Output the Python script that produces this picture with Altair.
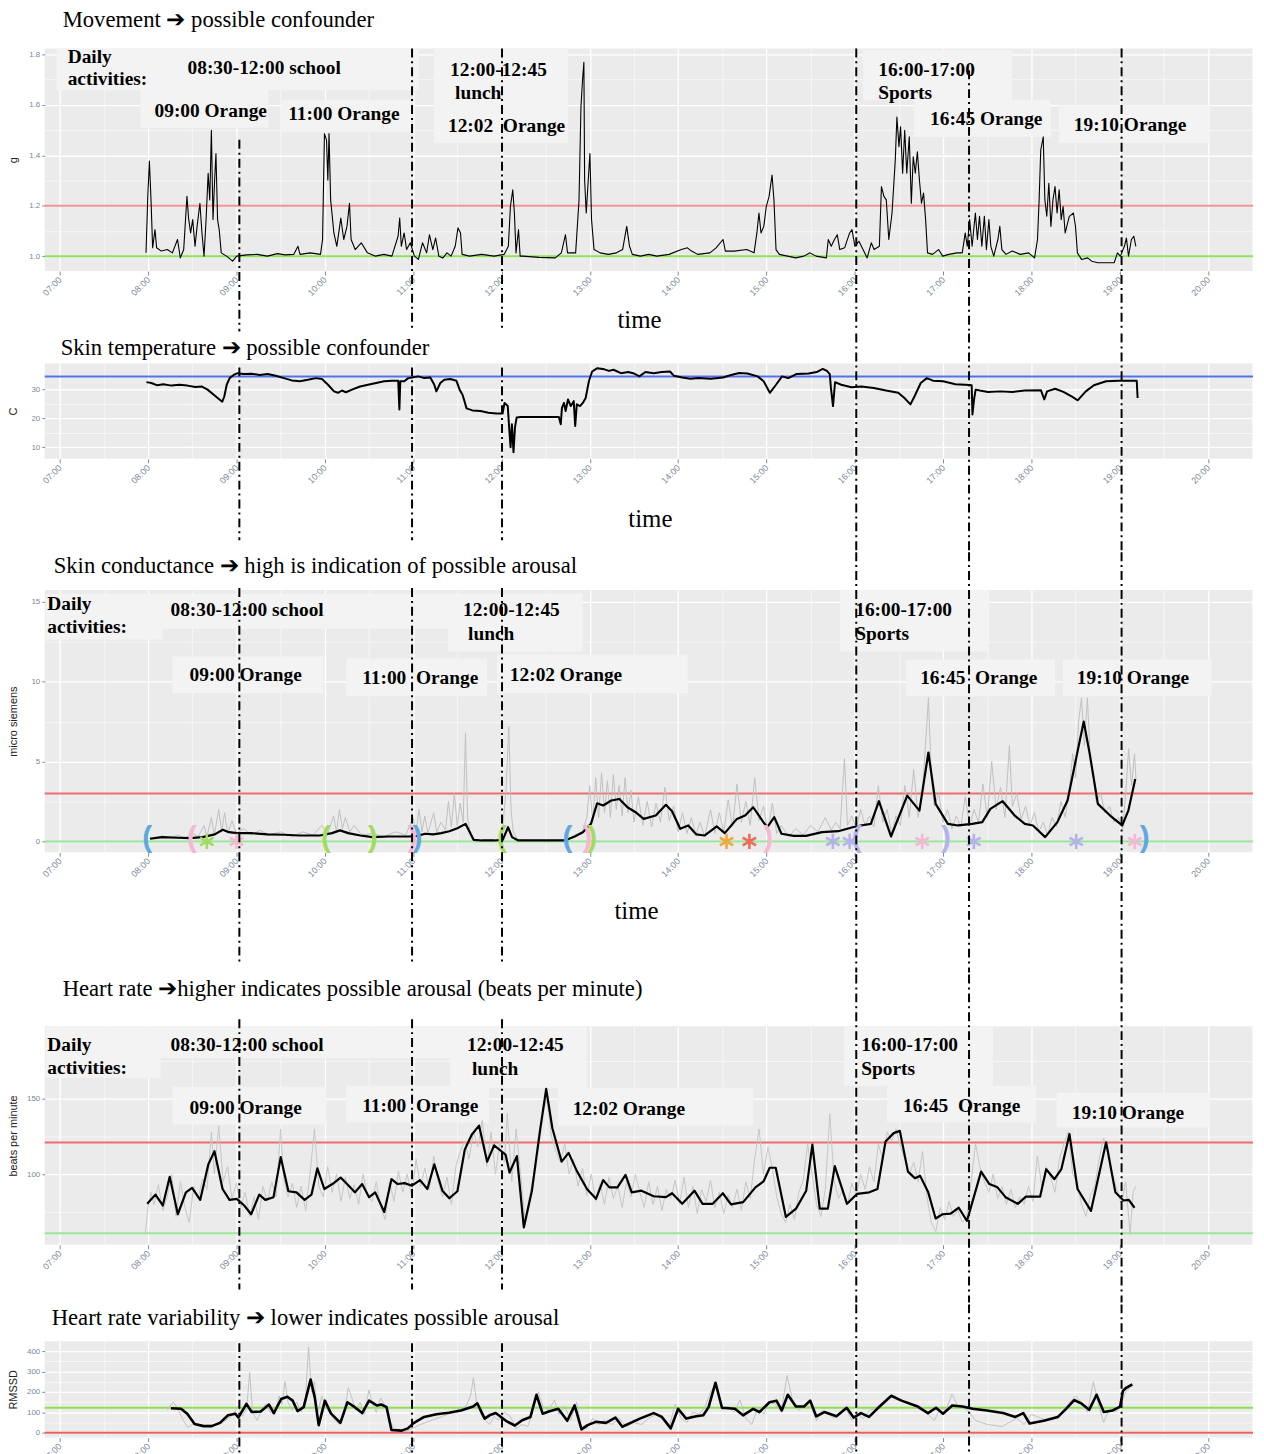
import altair as alt
import pandas as pd

# ---------------- data: (minutes after midnight, value) ----------------
MOVEMENT = [
(478.6,1.013),(479.8,1.237),(480.9,1.377),(482.0,1.223),(483.1,1.033),(484.7,1.105),(485.8,1.033),(489.0,1.02),
(493.1,1.026),(496.5,1.013),(500.0,1.066),(501.9,0.993),(504.2,1.026),(506.4,1.237),(507.5,1.151),(508.9,1.092),
(510.3,1.145),(511.9,1.039),(513.3,1.118),(515.2,1.210),(516.6,1.092),(518.0,1.0),(519.4,1.145),(520.8,1.329),
(521.9,1.223),(523.0,1.499),(524.1,1.145),(525.2,1.302),(526.1,1.407),(527.2,1.145),(528.3,1.105),(529.7,1.013),
(533.3,1.0),(537.4,0.98),(540.2,1.0),(547.0,1.005),(554.1,1.007),(561.0,1.0),(567.9,1.01),(573.0,1.005),
(579.0,1.007),(581.8,1.039),(583.2,1.007),(590.1,1.013),(597.1,1.007),(598.5,1.066),(599.8,1.486),(601.2,1.46),
(602.1,1.302),(602.9,1.486),(604.0,1.223),(606.2,1.092),(608.2,1.039),(610.9,1.151),(612.9,1.066),(615.1,1.118),
(616.8,1.21),(617.9,1.066),(620.7,1.026),(624.8,1.053),(629.0,1.013),(634.5,1.0),(640.1,1.007),(645.6,1.0),
(649.8,1.079),(650.9,1.151),(652.0,1.039),(653.9,1.092),(655.6,1.026),(658.1,1.053),(660.9,1.0),(663.6,0.987),
(666.4,1.053),(669.2,1.013),(671.1,1.085),(673.4,1.026),(675.3,1.072),(677.5,1.0),(680.3,0.993),(683.0,1.013),
(685.8,1.0),(688.6,1.039),(690.5,1.112),(692.2,1.092),(693.3,1.007),(698.3,1.0),(706.6,1.007),(715.0,1.0),
(721.9,1.007),(724.7,1.039),(726.1,1.197),(727.7,1.263),(728.8,1.171),(729.9,1.013),(731.6,1.105),(732.7,1.0),
(734.4,1.0),(745.5,0.995),(756.6,0.993),(760.7,1.013),(763.5,1.085),(764.9,1.013),(770.4,1.013),(772.7,1.223),
(774.0,1.591),(775.1,1.70),(776.0,1.769),(776.5,1.302),(777.6,1.171),(778.7,1.276),(780.1,1.407),(781.2,1.145),
(782.9,1.026),(787.0,1.013),(792.6,1.007),(798.1,1.013),(802.3,1.026),(805.1,1.118),(807.0,1.039),(808.9,1.007),
(814.4,1.0),(820.0,1.007),(825.5,1.0),(833.9,1.007),(842.2,1.026),(846.3,1.033),(849.1,1.020),(853.3,1.007),
(861.6,1.013),(865.8,1.033),(870.5,1.066),(872.1,1.020),(878.2,1.020),(886.6,1.026),(891.6,1.013),(893.5,1.092),
(894.9,1.171),(896.3,1.092),(898.2,1.118),(899.9,1.197),(901.8,1.237),(903.8,1.322),(905.1,1.223),(906.5,1.026),
(908.8,1.007),(914.3,1.0),(919.9,0.993),(925.4,1.0),(929.6,1.013),(933.7,1.0),(940.7,0.993),(942.0,1.066),
(944.0,1.039),(946.2,1.066),(948.1,1.085),(949.8,1.026),(953.1,1.033),(956.5,1.092),(958.1,1.105),(960.1,1.039),
(962.8,1.059),(965.6,1.026),(968.4,0.993),(971.2,1.053),(973.1,1.026),(976.7,1.039),(978.1,1.276),(979.8,1.237),
(981.4,1.223),(983.1,1.066),(985.3,1.171),(987.5,1.381),(988.6,1.552),(990.0,1.434),(991.1,1.513),(992.5,1.329),
(993.9,1.499),(995.3,1.329),(997.0,1.473),(998.4,1.210),(999.7,1.394),(1001.1,1.329),(1002.5,1.414),(1003.9,1.302),
(1005.3,1.210),(1006.7,1.250),(1008.1,1.145),(1009.4,1.013),(1012.8,1.007),(1016.9,1.026),(1019.7,1.0),(1023.9,1.007),
(1029.4,1.013),(1033.0,1.013),(1035.0,1.092),(1036.4,1.039),(1038.0,1.145),(1039.7,1.039),(1041.9,1.171),(1043.3,1.066),
(1044.7,1.158),(1046.3,1.039),(1048.0,1.158),(1049.4,1.026),(1051.1,1.145),(1052.4,1.039),(1054.4,1.0),(1057.2,1.066),
(1058.5,1.118),(1059.9,1.026),(1062.7,1.007),(1066.9,1.020),(1072.4,1.007),(1078.0,1.013),(1082.1,0.993),(1084.1,1.066),
(1085.2,1.223),(1086.3,1.421),(1088.0,1.473),(1089.1,1.223),(1090.4,1.158),(1091.8,1.289),(1093.2,1.118),(1094.6,1.223),
(1096.0,1.276),(1097.4,1.171),(1098.8,1.263),(1100.2,1.145),(1101.5,1.197),(1102.9,1.092),(1105.7,1.158),(1108.5,1.171),
(1109.9,1.118),(1111.2,1.013),(1114.0,0.987),(1118.2,0.993),(1120.9,0.980),(1125.1,0.974),(1130.7,0.974),(1136.2,0.974),
(1138.4,1.013),(1140.4,1.0),(1143.1,1.039),(1144.5,1.072),(1145.9,1.0),(1147.9,1.066),(1149.5,1.079),(1150.9,1.039)]

SKIN_TEMP = [
(478.9,32.6),(482.2,32.3),(486.3,31.5),(490.4,31.9),(495.8,31.4),(501.3,31.7),(506.7,31.4),(512.2,30.9),(516.3,31.1),
(520.4,30.0),(524.4,28.3),(528.5,26.6),(530.4,25.8),(531.8,27.7),(533.4,31.7),(535.4,34.0),(538.1,35.1),(540.8,35.7),
(544.9,35.4),(550.4,35.5),(555.8,35.1),(561.3,35.4),(566.7,34.8),(572.2,34.0),(577.6,33.2),(583.1,32.9),(588.5,33.4),
(594.0,34.0),(598.1,33.7),(602.2,31.7),(606.3,29.4),(609.0,28.9),(611.7,29.7),(614.4,29.1),(618.5,30.0),(624.0,31.1),
(629.4,31.7),(634.9,32.3),(640.3,32.9),(645.8,33.1),(649.9,33.1),(650.7,23.1),(651.3,32.9),(654.0,32.9),(656.7,34.0),
(659.4,34.2),(663.5,34.6),(667.6,34.0),(671.7,34.2),(674.4,31.7),(675.8,29.4),(678.5,32.3),(681.2,33.4),(685.3,33.7),
(689.4,33.1),(691.6,30.0),(693.5,28.3),(694.9,26.0),(696.3,23.5),(700.3,22.8),(705.8,22.6),(711.2,22.0),(716.7,21.7),
(720.8,21.7),(722.1,25.4),(724.3,24.3),(725.4,15.7),(726.2,10.0),(727.1,18.0),(728.2,8.3),(729.2,16.9),(730.3,20.3),
(733.1,20.5),(741.2,20.5),(749.4,20.5),(759.0,20.5),(760.3,18.0),(761.1,23.7),(762.5,25.4),(763.6,22.6),(765.2,26.6),
(767.1,24.3),(769.1,26.0),(770.1,17.4),(771.2,24.9),(773.4,24.3),(775.3,25.4),(777.2,27.1),(779.4,32.9),(781.6,36.3),
(784.9,37.4),(789.0,37.2),(793.0,36.5),(796.1,36.9),(801.2,35.7),(806.1,36.1),(809.5,35.7),(813.7,34.6),(817.8,36.1),
(823.4,35.7),(828.9,36.1),(834.5,36.3),(837.2,34.8),(842.8,34.2),(848.3,33.8),(853.8,34.0),(862.2,33.8),(870.5,34.2),
(876.0,35.1),(881.5,35.8),(887.1,35.6),(894.0,34.6),(898.1,32.9),(902.3,28.9),(906.5,31.7),(910.6,34.6),(914.8,34.0),
(920.3,35.4),(928.6,35.6),(934.1,36.1),(938.3,37.2),(941.1,36.5),(943.0,35.4),(943.8,30.6),(945.2,24.3),(946.6,32.6),
(950.8,31.7),(957.7,30.8),(964.6,31.1),(972.9,30.6),(981.2,29.7),(989.5,28.9),(993.7,27.1),(997.8,24.9),(1000.6,27.7),
(1004.8,32.3),(1008.9,34.0),(1013.1,33.1),(1020.0,32.9),(1028.3,31.9),(1035.2,31.7),(1039.4,31.5),(1039.9,21.4),
(1041.0,26.6),(1042.1,30.0),(1044.9,29.7),(1050.4,29.2),(1058.8,29.4),(1067.1,29.2),(1075.4,29.7),(1086.4,29.8),
(1088.7,26.6),(1090.6,29.4),(1096.1,30.3),(1101.7,29.2),(1107.2,27.7),(1111.4,26.3),(1116.9,29.4),(1122.4,31.5),
(1130.7,32.9),(1139.1,33.1),(1151.5,33.1),(1152.1,27.1)]

SC_RAW = [
(481,0.2),(490,0.35),(495,0.2),(500,0.4),(505,0.2),(510,0.5),(514,0.3),(518,1.0),(520,0.3),(523,1.5),(525,0.4),(528,2.0),
(530,0.6),(532,1.8),(534,0.5),(537,1.3),(540,0.5),(545,0.8),(550,0.4),(556,0.7),(562,0.4),(570,0.6),(578,0.3),(585,0.6),
(592,0.4),(598,1.0),(602,0.5),(606,1.6),(608,0.6),(610,2.0),(612,0.8),(614,1.5),(617,0.6),(620,1.0),(625,0.4),(632,0.5),
(640,0.3),(648,0.6),(655,0.4),(660,1.5),(662,0.5),(664,2.0),(666,0.6),(668,1.6),(670,0.5),(674,1.8),(676,0.6),(679,1.2),
(682,0.7),(684,2.5),(686,0.9),(688,3.0),(690,1.0),(692,2.4),(694,1.2),(695.6,6.8),(697,1.5),(699,0.4),(701,0.1),(710,0.05),
(720,0.1),(723,3.0),(725,7.2),(726.5,2.0),(728,0.6),(731,0.1),(745,0.05),(760,0.05),(766,0.2),(770,0.4),(775,0.6),(778,1.5),
(780,3.5),(782,1.2),(784,4.0),(786,1.5),(788,4.3),(790,1.8),(792,3.8),(794,1.5),(796,4.2),(798,2.0),(800,3.5),(802,1.6),
(804,4.0),(806,1.8),(808,3.2),(810,1.2),(813,2.8),(816,1.0),(819,2.5),(822,0.9),(825,2.4),(828,1.2),(831,3.4),(834,1.3),
(837,2.2),(840,0.6),(843,1.8),(846,0.5),(849,1.5),(852,0.4),(855,1.2),(858,0.3),(862,2.0),(865,0.5),(868,1.8),(871,0.6),
(874,2.6),(877,0.9),(880,3.6),(883,1.2),(886,2.5),(889,1.0),(892,4.0),(895,1.3),(898,2.2),(901,0.6),(904,2.4),(907,0.5),
(910,1.0),(915,0.3),(920,0.8),(925,0.4),(930,1.0),(935,0.6),(940,1.5),(944,0.7),(947,1.2),(950,0.8),(953,5.2),(955,1.0),
(958,1.6),(961,0.8),(964,2.0),(967,1.0),(970,1.6),(973,0.9),(976,3.5),(979,1.2),(982,2.0),(985,0.5),(988,1.6),(991,1.0),
(994,3.5),(997,1.5),(1000,4.5),(1003,1.5),(1006,3.2),(1008,6.0),(1010,9.0),(1012,4.0),(1014,2.2),(1017,3.0),(1020,1.2),
(1023,2.0),(1026,0.8),(1029,1.6),(1032,0.9),(1035,2.8),(1038,1.0),(1041,2.0),(1044,1.2),(1047,3.6),(1050,1.5),(1053,5.0),
(1056,2.0),(1059,3.4),(1062,1.5),(1065,6.0),(1067,2.2),(1070,3.0),(1073,1.4),(1076,2.2),(1079,1.0),(1082,1.8),(1085,0.6),
(1088,1.2),(1091,0.4),(1094,1.5),(1097,0.9),(1100,2.5),(1103,1.5),(1106,3.5),(1108,5.5),(1110,4.0),(1112,7.5),(1114,9.0),
(1116,6.0),(1118,9.0),(1120,5.0),(1122,4.0),(1124,2.5),(1127,3.0),(1130,1.8),(1133,2.2),(1136,1.2),(1139,1.5),(1142,0.8),
(1144,3.0),(1146,5.8),(1148,3.5),(1150,5.5),(1151,3.9)]

SC_SMOOTH = [
(481.3,0.17),(489.5,0.27),(500.5,0.23),(508.8,0.21),(517.0,0.27),(525.3,0.44),(530.7,0.73),(534.9,0.58),(540.4,0.52),
(550.0,0.52),(561.0,0.44),(572.0,0.42),(583.0,0.37),(596.7,0.37),(604.9,0.52),(610.4,0.69),(615.9,0.52),(624.2,0.37),
(632.4,0.27),(643.4,0.31),(657.2,0.31),(662.7,0.35),(668.2,0.48),(673.7,0.44),(679.1,0.52),(684.6,0.64),(690.1,0.83),
(695.6,1.10),(701.1,0.10),(706.6,0.06),(714.9,0.06),(720.9,0.10),(724.5,0.89),(727.2,0.27),(731.4,0.06),(742.4,0.06),
(753.3,0.06),(763.0,0.06),(769.8,0.31),(775.3,0.58),(780.8,1.10),(785.0,2.39),(789.1,2.25),(794.6,2.56),(800.1,2.66),
(805.6,2.14),(811.1,1.83),(816.6,1.41),(824.8,1.62),(831.7,2.29),(835.9,1.89),(841.4,0.79),(846.9,1.0),(852.4,0.44),
(857.9,0.37),(866.2,0.94),(871.7,0.52),(879.9,1.41),(885.5,1.62),(891.0,2.14),(897.9,1.21),(900.6,0.89),(905.3,1.52),
(910.2,0.48),(918.5,0.35),(926.8,0.35),(937.8,0.58),(948.8,0.64),(958.5,0.89),(964.0,1.0),(970.9,1.10),(976.4,2.52),
(984.6,0.31),(995.6,2.87),(1003.9,1.93),(1010.0,5.57),(1014.9,2.35),(1023.2,1.10),(1030.1,1.0),(1039.7,1.10),(1046.6,1.21),
(1052.1,2.04),(1060.4,2.52),(1068.6,1.62),(1075.5,1.10),(1081.0,1.0),(1089.3,0.27),(1097.6,1.21),(1104.5,2.56),(1110.0,5.05),
(1115.5,7.51),(1119.6,5.47),(1125.1,2.35),(1133.4,1.62),(1141.6,1.0),(1145.8,1.93),(1150.5,3.91)]

# event markers on the skin-conductance baseline: (minutes, glyph, colour key)
SC_MARKS = [
(479.4,"(","blue"),(509.8,"(","pink"),(519.9,"*","green"),(540.1,"*","pink"),(600.9,"(","green"),(632.6,")","green"),
(659.6,")","pink"),(663.0,")","blue"),(720.3,"(","green"),(764.9,"(","blue"),(778.4,")","pink"),(781.7,")","green"),
(872.9,"*","orange"),(888.4,"*","red"),(901.2,")","pink"),(945.1,"*","purple"),(956.5,"*","purple"),(961.3,"(","purple"),
(1005.8,"*","pink"),(1022.0,")","purple"),(1040.9,"*","purple"),(1110.4,"*","purple"),(1150.2,"*","pink"),(1157.0,")","blue")]
MARK_COLORS = {"blue": "#5fa8e0", "pink": "#f4b8d4", "green": "#a3db62", "orange": "#f6a640",
               "red": "#ef6a5a", "purple": "#b4b2e8"}

HR_RAW = [
(478,60),(480,78),(482,88),(484,80),(487,93),(490,76),(493,85),(496,100),(499,72),(502,95),(505,78),(508,68),(511,92),
(514,84),(517,97),(520,90),(523,128),(525,100),(528,132),(531,95),(534,105),(537,84),(540,94),(543,78),(546,88),(549,72),
(552,85),(555,70),(558,92),(561,82),(564,95),(567,85),(570,130),(572,98),(575,85),(578,94),(581,78),(584,92),(587,76),
(590,100),(593,130),(596,92),(599,85),(602,105),(605,88),(608,100),(611,82),(614,98),(617,84),(620,93),(623,80),(626,100),
(629,86),(632,82),(635,95),(638,78),(641,70),(644,95),(647,82),(650,102),(653,88),(656,100),(659,85),(662,110),(665,92),
(668,104),(671,90),(674,112),(677,95),(680,85),(683,98),(686,80),(689,105),(692,115),(695,122),(698,110),(701,128),
(704,118),(707,136),(710,105),(713,128),(716,100),(719,122),(722,108),(724,140),(727,95),(730,130),(733,100),(736,70),
(739,85),(742,100),(745,125),(748,140),(751,150),(754,125),(757,115),(760,108),(763,120),(766,100),(769,110),(772,92),
(775,104),(778,86),(781,100),(784,82),(787,94),(790,80),(793,98),(796,84),(799,92),(802,78),(805,95),(808,85),(811,100),
(814,88),(817,78),(820,95),(823,80),(826,92),(829,76),(832,90),(835,84),(838,96),(841,80),(844,98),(847,78),(850,92),
(853,74),(856,90),(859,82),(862,96),(865,78),(868,88),(871,74),(874,86),(877,78),(880,90),(883,76),(886,95),(889,84),
(892,110),(895,130),(898,100),(901,118),(904,104),(907,85),(910,74),(913,68),(916,80),(919,70),(922,88),(925,96),(928,120),
(931,100),(934,80),(937,72),(940,90),(943,140),(946,95),(949,84),(952,90),(955,80),(958,94),(961,86),(964,100),(967,90),
(970,105),(973,95),(976,120),(979,110),(982,128),(985,122),(988,130),(991,118),(994,110),(997,100),(1000,108),(1003,95),
(1006,115),(1009,85),(1012,68),(1015,62),(1018,78),(1021,70),(1024,82),(1027,72),(1030,76),(1033,68),(1036,72),(1039,95),
(1042,120),(1045,105),(1048,95),(1051,88),(1054,100),(1057,84),(1060,92),(1063,80),(1066,90),(1069,78),(1072,85),(1075,80),
(1078,92),(1081,82),(1084,112),(1087,92),(1090,105),(1093,98),(1096,88),(1099,110),(1102,120),(1105,128),(1108,100),
(1111,95),(1114,80),(1117,72),(1120,86),(1123,92),(1126,110),(1129,124),(1132,118),(1135,100),(1138,90),(1141,80),
(1144,95),(1147,60),(1149,88),(1151,92)]

HR_SMOOTH = [
(479.4,80.4),(485.0,86.5),(490.0,79.3),(494.7,98.3),(500.2,73.5),(505.7,88.0),(509.9,90.9),(515.4,83.0),(520.9,106.5),
(525.1,115.2),(530.6,90.2),(535.3,83.0),(540.3,83.7),(545.3,79.3),(550.0,73.5),(555.5,86.5),(559.6,83.0),(565.2,84.8),
(570.1,111.3),(575.3,88.7),(580.8,88.0),(586.3,83.0),(591.0,86.5),(595.0,103.9),(599.7,90.2),(605.2,93.5),(610.8,97.8),
(616.3,92.4),(620.5,88.0),(625.4,93.5),(630.1,84.8),(634.3,88.0),(640.4,75.0),(645.3,96.7),(649.5,93.5),(654.2,94.1),
(659.2,92.4),(664.7,96.1),(669.7,90.2),(674.4,106.5),(679.9,89.1),(684.6,84.1),(690.1,88.7),(695.1,116.3),(699.8,126.1),
(704.8,132.2),(710.3,108.3),(715.0,119.1),(720.0,115.2),(722.8,113.0),(725.5,101.1),(730.5,112.0),(735.2,64.8),
(740.7,89.1),(746.3,129.3),(750.4,156.5),(754.6,130.4),(760.9,108.3),(765.6,114.1),(771.2,102.2),(778.1,90.2),(784.2,83.7),
(789.1,96.1),(793.3,91.3),(798.8,91.3),(804.3,99.6),(808.5,88.0),(815.1,89.1),(823.4,85.4),(831.7,84.8),(835.9,87.4),
(842.8,80.4),(851.1,89.1),(856.6,80.4),(863.5,80.4),(870.4,87.4),(875.9,80.0),(884.2,81.5),(892.5,91.3),(898.0,95.2),
(902.2,104.3),(906.3,104.3),(913.2,71.7),(920.1,77.2),(927.0,89.1),(931.2,119.6),(936.2,77.2),(941.7,77.2),(946.4,105.4),
(954.7,80.4),(961.6,87.0),(969.9,88.0),(975.4,90.2),(980.9,121.7),(986.4,127.2),(990.6,128.7),(996.1,101.7),(1000.8,97.4),
(1004.4,98.9),(1009.9,88.0),(1014.9,70.7),(1019.6,73.5),(1025.1,73.9),(1030.6,77.8),(1036.2,69.1),(1045.8,101.7),
(1051.4,93.5),(1056.9,91.3),(1062.4,84.8),(1070.7,80.4),(1076.2,85.2),(1085.9,85.2),(1090.0,103.3),(1095.6,96.7),
(1100.3,103.3),(1105.8,126.5),(1111.3,90.2),(1120.4,75.7),(1130.7,121.1),(1137.0,88.0),(1142.5,82.6),(1146.1,83.0),
(1150.0,77.8)]

HRV_RAW = [
(493,110),(497,150),(500,120),(504,60),(507,25),(510,40),(520,30),(530,45),(538,90),(541,130),(544,80),(547,120),(549,296),
(551,100),(554,60),(557,110),(560,140),(563,100),(566,90),(569,180),(571,140),(573,250),(575,150),(578,110),(581,150),
(584,100),(587,180),(589,420),(591,200),(593,250),(595,90),(598,180),(601,120),(604,90),(607,60),(610,40),(613,90),
(616,220),(618,180),(621,110),(624,150),(627,90),(630,210),(632,150),(635,100),(638,170),(641,130),(644,60),(647,20),
(655,5),(665,40),(680,80),(690,110),(696,130),(699,180),(701,270),(703,150),(706,90),(709,60),(712,40),(715,80),(718,60),
(722,100),(726,80),(730,20),(734,40),(738,30),(742,120),(745,200),(748,130),(752,110),(756,160),(759,90),(763,130),
(767,60),(771,150),(774,30),(778,20),(782,70),(786,40),(790,60),(795,40),(800,70),(805,30),(810,50),(815,40),(820,70),
(825,90),(830,60),(834,30),(838,140),(842,70),(846,50),(850,100),(854,90),(858,120),(862,200),(866,240),(870,110),
(874,130),(878,100),(882,160),(886,70),(890,40),(894,120),(898,90),(902,150),(906,140),(910,100),(914,280),(918,150),
(922,110),(926,130),(930,130),(934,60),(938,110),(942,90),(946,70),(950,100),(954,120),(958,60),(962,90),(966,70),
(970,110),(975,120),(985,180),(992,160),(1000,130),(1008,100),(1014,60),(1018,120),(1022,110),(1026,190),(1030,130),
(1034,120),(1038,100),(1042,60),(1050,40),(1060,30),(1070,70),(1075,40),(1080,90),(1090,60),(1100,90),(1106,150),
(1110,180),(1114,150),(1118,100),(1122,250),(1125,150),(1129,50),(1133,120),(1137,100),(1141,140),(1144,200),(1148,230)]

HRV_SMOOTH = [
(495.5,120),(502.4,117),(506.6,93),(511.6,42),(517.7,32),(523.2,32),(528.8,48),(534.3,85),(539.3,93),(541.3,74),
(546.8,141),(550.4,101),(556.5,104),(562.1,138),(565.4,96),(570.4,165),(574.6,176),(578.2,157),(581.5,106),(585.7,125),
(590.4,261),(593.2,173),(595.9,37),(600.1,157),(604.3,93),(610.6,48),(615.4,149),(620.4,125),(625.4,96),(630.1,157),
(635.6,133),(638.4,138),(642.0,125),(645.3,13),(652.3,10),(656.4,21),(660.6,48),(667.5,77),(675.9,90),(684.2,98),
(692.5,109),(700.8,128),(703.6,144),(708.6,69),(711.9,85),(716.1,96),(719.7,77),(723.0,58),(729.1,35),(734.1,61),
(739.7,77),(743.8,186),(748.0,93),(752.2,104),(758.6,117),(764.7,58),(769.7,134),(774.4,16),(778.5,37),(784.1,53),
(791.0,48),(797.4,74),(802.1,29),(807.7,48),(814.0,69),(823.4,96),(829.0,77),(835.0,21),(840.0,117),(845.5,69),
(852.4,80),(857.1,85),(860.7,125),(865.4,245),(869.8,122),(878.6,117),(884.1,85),(891.0,117),(895.2,101),(902.1,149),
(906.8,157),(910.4,109),(914.5,186),(920.0,128),(925.5,128),(929.7,157),(933.8,80),(939.3,101),(947.6,80),(954.5,122),
(959.2,74),(964.2,96),(969.7,77),(975.2,117),(984.8,181),(991.7,157),(1002.8,128),(1009.7,96),(1015.2,122),(1019.9,93),
(1026.2,133),(1033.1,128),(1040.0,117),(1049.7,109),(1060.7,96),(1069.0,77),(1074.5,96),(1078.7,45),(1088.3,58),
(1098.0,77),(1103.5,117),(1109.0,160),(1113.7,144),(1119.2,112),(1124.2,186),(1129.1,101),(1135.2,109),(1140.2,128),
(1142.1,205),(1144.0,218),(1148.5,237)]

# dashed event lines (minutes after midnight)
EVENT_LINES = [542.0, 659.3, 720.4, 961.0, 1037.6, 1141.2]

# annotation boxes (t1, t2, v1, v2) and labels (text, t, v) per panel
P1_BOXES = [(418.0,664.0,1.824,1.658),(474.9,561.7,1.659,1.509),(570.5,658.6,1.619,1.493),(674.2,765.1,1.824,1.619),
            (674.2,765.1,1.619,1.450),(965.7,1066.7,1.816,1.619),(1000.3,1093.2,1.619,1.473),(1098.6,1201.0,1.599,1.450)]
P1_TEXT = [("Daily",425.4,1.789),("activities:",425.4,1.702),("08:30-12:00 school",506.8,1.745),
           ("09:00 Orange",484.4,1.576),("11:00 Orange",575.2,1.564),("12:00-12:45",685.1,1.737),("lunch",688.5,1.647),
           ("12:02\u00a0 Orange",683.7,1.517),("16:00-17:00",975.9,1.737),("Sports",975.9,1.647),
           ("16:45 Orange",1011.1,1.544),("19:10 Orange",1108.8,1.521)]
P3_BOXES = [(410.5,489.8,15.50,12.64),(489.8,683.7,15.50,13.32),(683.7,775.2,15.50,11.89),(496.6,599.0,11.58,9.28),
            (614.6,710.2,11.46,9.09),(716.9,846.4,11.71,9.28),(950.1,1051.1,15.75,11.89),(994.9,1095.9,11.39,9.09),
            (1101.3,1202.3,11.39,9.09)]
P3_TEXT = [("Daily",411.6,14.88),("activities:",411.6,13.45),("08:30-12:00 school",495.2,14.51),("12:00-12:45",693.9,14.51),
           ("lunch",697.3,13.01),("16:00-17:00",960.3,14.51),("Sports",960.3,13.01),("09:00 Orange",508.1,10.4),
           ("11:00\u00a0 Orange",625.4,10.21),("12:02 Orange",725.7,10.4),("16:45\u00a0 Orange",1004.4,10.21),
           ("19:10 Orange",1110.8,10.21)]
P4_BOXES = [(410.5,488.5,198,163.8),(488.5,686.4,198,176.9),(685.1,777.9,198,157.2),(496.6,601.0,157.9,132.9),
            (614.6,711.5,158.5,134.2),(758.3,891.1,157.2,132.2),(952.8,1053.8,198,158.5),(982.0,1083.0,158.5,134.2),
            (1097.2,1200.9,153.9,130.9)]
P4_TEXT = [("Daily",411.6,185.5),("activities:",411.6,170.4),("08:30-12:00 school",495.2,185.5),("12:00-12:45",696.6,185.5),
           ("lunch",700.0,169.7),("16:00-17:00",964.4,185.5),("Sports",964.4,169.7),("09:00 Orange",508.1,144.1),
           ("11:00\u00a0 Orange",625.4,145.4),("12:02 Orange",768.4,143.4),("16:45\u00a0 Orange",992.8,145.4),
           ("19:10 Orange",1107.4,140.8)]

# ---------------- helpers ----------------
X_DOMAIN = [6.8305, 20.508]
W = 1216
HALF_HOURS = [7 + 0.5 * i for i in range(28)]
STAR = "M0,-1L0,1M-0.87,-0.5L0.87,0.5M-0.87,0.5L0.87,-0.5"
LABEL_GRAY = "#7a869a"
ARROW = "\u2794"


def major(step):
    return f"abs(datum.value / {step} - round(datum.value / {step})) < 0.001"


def x_axis(title, pad, tx):
    m = major(1)
    kw = dict(values=HALF_HOURS,
              labelExpr=f"{m} ? ((datum.value < 10 ? '0' : '') + round(datum.value) + ':00') : ''",
              labelAngle=315, labelAlign="right", labelBaseline="middle", labelFont="Liberation Sans",
              labelFontSize=9, labelColor=LABEL_GRAY, labelPadding=3, labelOverlap=False,
              tickSize=4, tickColor="#8a8a8a",
              tickOpacity={"condition": {"test": f"!({m})", "value": 0}, "value": 1},
              grid=True, gridColor="white",
              gridWidth={"condition": {"test": f"!({m})", "value": 0.6}, "value": 1.3},
              domain=False, minExtent=30, maxExtent=30)
    if title:
        kw.update(title=title, titleFont="Liberation Serif", titleFontSize=25, titleFontWeight="normal",
                  titleColor="black", titlePadding=pad, titleX=tx)
    else:
        kw["title"] = None
    return alt.Axis(**kw)


def y_axis(title, values, step, fmt):
    m = major(step)
    return alt.Axis(values=values, title=title,
                    labelExpr=f"{m} ? format(datum.value, '{fmt}') : ''",
                    labelFont="Liberation Sans", labelFontSize=8, labelColor=LABEL_GRAY, labelPadding=2,
                    labelOverlap=False, tickSize=3, tickColor="#8a8a8a",
                    tickOpacity={"condition": {"test": f"!({m})", "value": 0}, "value": 1},
                    grid=True, gridColor="white",
                    gridWidth={"condition": {"test": f"!({m})", "value": 0.6}, "value": 1.3},
                    domain=False, minExtent=18, maxExtent=18,
                    titleFont="Liberation Sans", titleFontSize=11, titleFontWeight="normal",
                    titleColor="#222222", titlePadding=8)


def series(pairs):
    return pd.DataFrame({"h": [t / 60 for t, _ in pairs], "v": [v for _, v in pairs]})


def panel(H, ydom, ytitle, yvals, ystep, yfmt, title, tdx, toff, xtitle=None, xpad=10, xtx=None,
          hlines=(), lines=(), boxes=(), texts=(), rules=(), marks=False):
    X = alt.X("h:Q", scale=alt.Scale(domain=X_DOMAIN, nice=False, zero=False), axis=x_axis(xtitle, xpad, xtx))
    Y = alt.Y("v:Q", scale=alt.Scale(domain=ydom, nice=False, zero=False), axis=y_axis(ytitle, yvals, ystep, yfmt))
    layers = []
    if boxes:
        bdf = pd.DataFrame({"h": [b[0] / 60 for b in boxes], "h2": [b[1] / 60 for b in boxes],
                            "v": [b[2] for b in boxes], "v2": [b[3] for b in boxes]})
        layers.append(alt.Chart(bdf).mark_rect(fill="#f3f3f3", stroke=None).encode(x=X, x2="h2", y=Y, y2="v2"))
    for val, col in hlines:
        layers.append(alt.Chart(pd.DataFrame({"v": [val]})).mark_rule(color=col, strokeWidth=2).encode(y=Y))
    for pairs, col, sw in lines:
        layers.append(alt.Chart(series(pairs)).mark_line(color=col, strokeWidth=sw, strokeJoin="round").encode(x=X, y=Y))
    if marks:
        pdf = pd.DataFrame({"h": [m[0] / 60 for m in SC_MARKS if m[1] != "*"],
                            "v": [0.0 for m in SC_MARKS if m[1] != "*"],
                            "s": [m[1] for m in SC_MARKS if m[1] != "*"],
                            "c": [MARK_COLORS[m[2]] for m in SC_MARKS if m[1] != "*"]})
        sdf = pd.DataFrame({"h": [m[0] / 60 for m in SC_MARKS if m[1] == "*"],
                            "v": [0.0 for m in SC_MARKS if m[1] == "*"],
                            "c": [MARK_COLORS[m[2]] for m in SC_MARKS if m[1] == "*"]})
        layers.append(alt.Chart(pdf).mark_text(font="Liberation Sans", fontWeight="bold", fontSize=30,
                                               baseline="middle", dy=-3)
                      .encode(x=X, y=Y, text="s:N", color=alt.Color("c:N", scale=None)))
        layers.append(alt.Chart(sdf).mark_point(shape=STAR, filled=False, size=240, strokeWidth=2.6, opacity=1)
                      .encode(x=X, y=Y, color=alt.Color("c:N", scale=None)))
    if texts:
        tdf = pd.DataFrame({"h": [t[1] / 60 for t in texts], "v": [t[2] for t in texts], "label": [t[0] for t in texts]})
        layers.append(alt.Chart(tdf).mark_text(align="left", baseline="middle", font="Liberation Serif",
                                               fontWeight="bold", fontSize=19.5, color="black")
                      .encode(x=X, y=Y, text="label:N"))
    for idx, top, bot in rules:
        rdf = pd.DataFrame({"h": [EVENT_LINES[i] / 60 for i in idx]})
        layers.append(alt.Chart(rdf).mark_rule(color="black", strokeWidth=2, strokeDash=[9, 4, 2, 4])
                      .encode(x=X, y=alt.value(top), y2=alt.value(bot)))
    return alt.layer(*layers).properties(
        width=W, height=H,
        title=alt.TitleParams(text=title, anchor="start", frame="group", dx=tdx, offset=toff, baseline="middle",
                              font="Liberation Serif", fontSize=22.8, fontWeight="normal", color="black"))


H1, H2, H3, H4, H5 = 224, 96, 264, 220, 97

p1 = panel(H1, [0.941, 1.824], "g", [round(1.0 + 0.1 * i, 1) for i in range(9)], 0.2, ".1f",
           f"Movement {ARROW} possible confounder", 18, 5, xtitle="time", xpad=7, xtx=598,
           hlines=[(1.2, "#f29494"), (1.0, "#8fe35a")],
           lines=[(MOVEMENT, "black", 1.1)], boxes=P1_BOXES, texts=P1_TEXT,
           rules=[([0], 92, H1 + 61), ([1, 2, 3, 5], 0, H1 + 61), ([4], 22, H1 + 61)])

p2 = panel(H2, [6.0, 39.1], "C", [10, 15, 20, 25, 30, 35], 10, ".0f",
           f"Skin temperature {ARROW}  possible confounder", 16, -38, xtitle="time", xpad=18, xtx=609,
           hlines=[(34.6, "#4f72ee")], lines=[(SKIN_TEMP, "black", 2.0)],
           rules=[([0, 1, 2], 4, H2 + 82), ([3, 4, 5], -30, H2 + 92)])

p3 = panel(H3, [-0.68, 15.75], "micro siemens", [0, 2.5, 5, 7.5, 10, 12.5, 15], 5, ".0f",
           f"Skin conductance {ARROW}  high is indication of possible arousal", 9, -38, xtitle="time", xpad=17,
           xtx=595, hlines=[(3.0, "#ee6e6e"), (0.0, "#98e898")],
           lines=[(SC_RAW, "#bfbfbf", 1.0), (SC_SMOOTH, "black", 2.2)],
           boxes=P3_BOXES, texts=P3_TEXT, marks=True,
           rules=[([0, 1, 2], -2, H3 + 113), ([3, 4, 5], -38, H3 + 121)])

p4 = panel(H4, [53.3, 198], "beats per minute", [75, 100, 125, 150, 175], 50, ".0f",
           f"Heart rate {ARROW}higher  indicates possible arousal (beats per minute)", 18, -38,
           hlines=[(121, "#ee6e6e"), (61, "#98e898")],
           lines=[(HR_RAW, "#c6c6c6", 1.0), (HR_SMOOTH, "black", 2.2)],
           boxes=P4_BOXES, texts=P4_TEXT,
           rules=[([0, 1, 2], -7, H4 + 45), ([3, 4, 5], -52, H4 + 58)])

p5 = panel(H5, [-24, 449], "RMSSD", [0, 50, 100, 150, 200, 250, 300, 350, 400], 100, ".0f",
           f"Heart rate variability {ARROW} lower indicates possible arousal", 7, -38,
           hlines=[(122, "#8ee04c"), (0, "#ee6060")],
           lines=[(HRV_RAW, "#bdbdbd", 0.9), (HRV_SMOOTH, "black", 2.6)],
           rules=[([0, 1, 2], 2, H5 + 28), ([3, 4, 5], -37, H5 + 28)])

chart = (alt.vconcat(p1, p2, p3, p4, p5, spacing=0)
         .resolve_scale(x="independent", y="independent")
         .properties(padding={"top": -4, "left": 0, "right": 0, "bottom": 0})
         .configure_view(fill="#EBEBEB", stroke=None))

chart.save("out.html", embed_options={"renderer": "svg", "actions": False})
